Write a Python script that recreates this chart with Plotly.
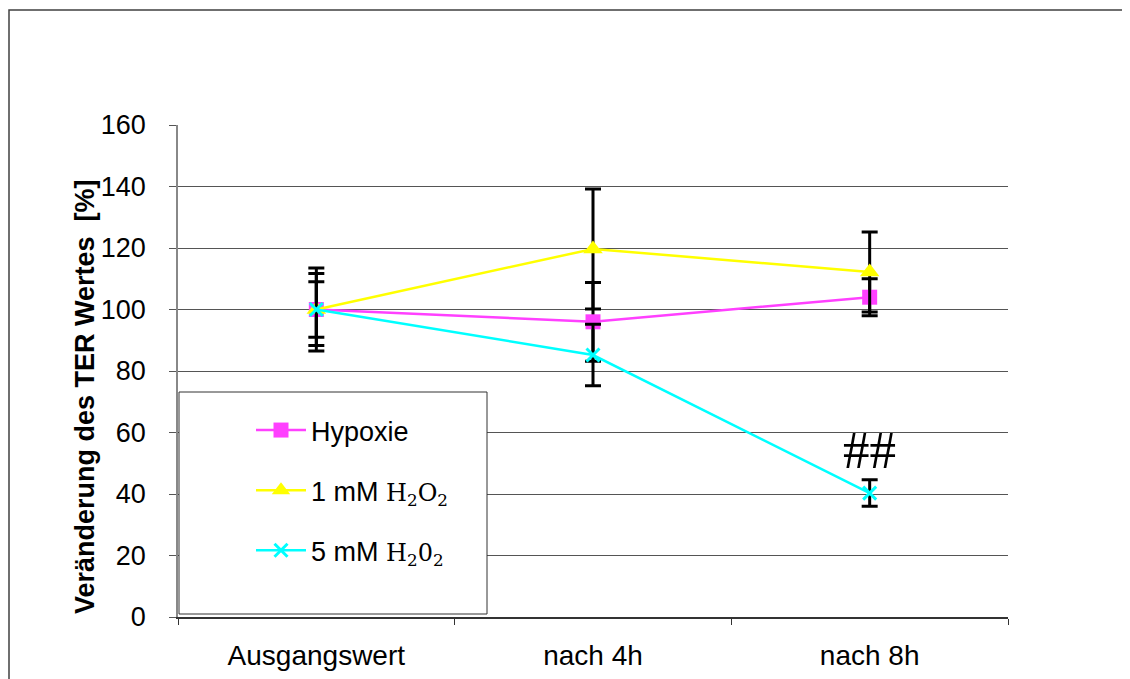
import plotly.graph_objects as go

categories = ["Ausgangswert", "nach 4h", "nach 8h"]

hypoxie = [100, 96, 104]
hypoxie_err = [13.5, 12.8, 6]

mm1 = [100, 119.7, 112.2]
mm1_err = [11.7, 19.5, 13]

mm5 = [100, 85.2, 40.3]
mm5_err = [9, 10, 4.3]

series_names = [
    "Hypoxie",
    "1 mM <span style=\"font-family:'DejaVu Serif'; font-size:24px\">H<sub>2</sub>O<sub>2</sub></span>",
    "5 mM <span style=\"font-family:'DejaVu Serif'; font-size:24px\">H<sub>2</sub>0<sub>2</sub></span>",
]
colors = ["#FF40FF", "#FFFF00", "#00FFFF"]
symbols = ["square", "triangle-up", "x-thin"]

# page has an 8px body margin; compensate so the picture lands where the reference is
OFF = 8
W, H = 1130, 679
L, R, T, B = 178 - OFF, 1008 - OFF, 125 - OFF, 617 - OFF
pw, ph = R - L, B - T


def px(x):
    return (x - OFF - L) / pw


def py(y):
    return (B - (y - OFF)) / ph


fig = go.Figure()
data = [(hypoxie, hypoxie_err), (mm1, mm1_err), (mm5, mm5_err)]
for i, (vals, errs) in enumerate(data):
    marker = dict(color=colors[i], symbol=symbols[i], size=15)
    if symbols[i] == "triangle-up":
        marker.update(size=17)
    if symbols[i] == "x-thin":
        marker.update(size=13, line=dict(color=colors[i], width=3))
    fig.add_trace(go.Scatter(
        x=categories, y=vals, name=series_names[i], mode="lines+markers",
        line=dict(color=colors[i], width=2.5),
        marker=marker,
        error_y=dict(type="data", array=errs, visible=True, color="black",
                     thickness=3, width=8),
        legendgroup=f"g{i}",
    ))

# legend box
fig.add_shape(type="rect", xref="paper", yref="paper",
              x0=px(179), x1=px(487), y0=py(614), y1=py(392),
              fillcolor="white", line=dict(color="#333333", width=1), layer="above")

# outer frame
fig.add_shape(type="rect", xref="paper", yref="paper",
              x0=px(9), x1=px(1145), y0=py(700), y1=py(10),
              fillcolor="rgba(0,0,0,0)", line=dict(color="#404040", width=1.5), layer="below")

fig.add_annotation(x=categories[2], y=40.3, yshift=43, text="##", showarrow=False,
                   font=dict(family="Liberation Serif", size=53, color="black"))

fig.add_annotation(xref="paper", yref="paper", x=px(85), y=py(397),
                   xanchor="center", yanchor="middle",
                   text="<b>Veränderung des TER Wertes  [%]</b>", textangle=-90,
                   showarrow=False, font=dict(family="Liberation Sans", size=27, color="black"))

fig.update_layout(
    width=W, height=H,
    margin=dict(l=L, r=W - R, t=T, b=H - B, pad=0),
    plot_bgcolor="white", paper_bgcolor="white",
    font=dict(family="Liberation Sans", size=27, color="black"),
    showlegend=True,
    legend=dict(x=px(251), y=py(406), xanchor="left", yanchor="top",
                bgcolor="rgba(0,0,0,0)", borderwidth=0,
                font=dict(family="Liberation Sans", size=27, color="black"),
                tracegroupgap=22, itemwidth=50),
)
fig.update_xaxes(
    range=[-0.5, 2.5],
    showline=True, linecolor="#333333", linewidth=1.5,
    ticks="outside", tickson="boundaries", ticklen=6, tickcolor="#333333",
    showgrid=False, ticklabelstandoff=13,
    tickfont=dict(size=28),
)
fig.update_yaxes(
    range=[0, 160], dtick=20, showline=True, linecolor="#888888", linewidth=1.5,
    ticks="outside", ticklen=7, tickcolor="#555555",
    showgrid=True, gridcolor="#555555", gridwidth=1, zeroline=False,
    ticklabelstandoff=18,
)

fig.write_html("out.html")
